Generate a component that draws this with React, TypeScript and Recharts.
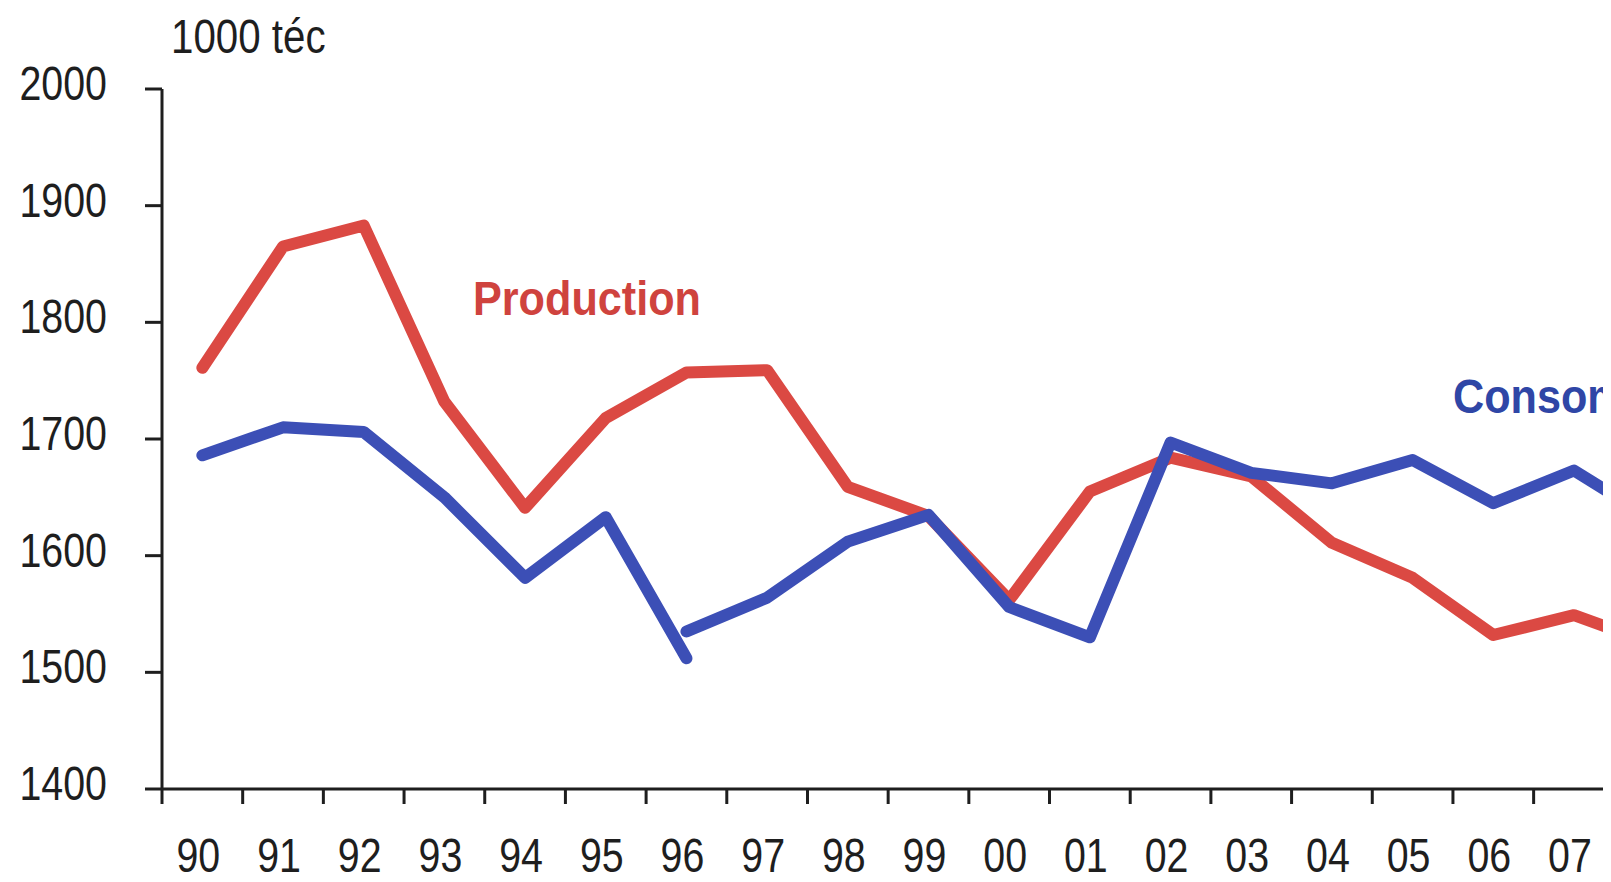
import { LineChart, Line, XAxis, YAxis } from 'recharts'

const years = ['90', '91', '92', '93', '94', '95', '96', '97', '98', '99', '00', '01', '02', '03', '04', '05', '06', '07', '08']
const production = [1761, 1865, 1883, 1732, 1641, 1718, 1757, 1759, 1659, 1634, 1562, 1655, 1684, 1668, 1611, 1581, 1532, 1549, 1524]
// consommation has a break in 96: old series ends, new series starts
const consOld = [1686, 1710, 1706, 1650, 1581, 1633, 1512]
const consNew = [1535, 1564, 1612, 1635, 1556, 1530, 1697, 1671, 1662, 1682, 1645, 1673, 1630]
const yTicks = [1400, 1500, 1600, 1700, 1800, 1900, 2000]

const breakIndex = consOld.length - 1

const data = years.map((label, i) => ({
  pos: i + 0.5,
  label,
  production: production[i],
  consOld: i <= breakIndex ? consOld[i] : null,
  consNew: i >= breakIndex ? consNew[i - breakIndex] : null,
}))

const boundaryTicks = years.map((_, i) => i).concat([years.length])
const centerTicks = data.map((d) => d.pos)

const FONT = "'Liberation Sans Narrow', 'Arial Narrow', 'Liberation Sans', Arial, sans-serif"
const RED = '#DB4943'
const BLUE = '#3C4FB6'
const INK = '#1e1e1e'

function NarrowText({ x, y, children, anchor = 'start', size = 48, weight = 'normal', fill = INK, baseline, squeeze = 0.82 }: any) {
  return (
    <text
      transform={`translate(${x},${y}) scale(${squeeze},1)`}
      textAnchor={anchor}
      dominantBaseline={baseline}
      fontFamily={FONT}
      fontSize={size}
      fontWeight={weight}
      fill={fill}
    >
      {children}
    </text>
  )
}

function YTick({ x, y, payload }: any) {
  return (
    <NarrowText x={x} y={y - 6} anchor="end" baseline="central">
      {payload.value}
    </NarrowText>
  )
}

function XLabel({ x, y, payload }: any) {
  const label = years[Math.floor(payload.value)]
  return (
    <NarrowText x={x - 4} y={y + 34} anchor="middle">
      {label}
    </NarrowText>
  )
}

function BlankTick() {
  return <g />
}

export default function App() {
  return (
    <div style={{ position: 'relative', width: 1595, height: 874, overflow: 'hidden', background: '#fff' }}>
      <LineChart width={1700} height={874} data={data} margin={{ top: 81, right: 13, left: 0, bottom: 0 }}>
        <XAxis
          xAxisId="a_marks"
          dataKey="pos"
          type="number"
          domain={[0, years.length]}
          ticks={boundaryTicks}
          tick={<BlankTick />}
          tickSize={15}
          height={16}
          axisLine={{ stroke: INK, strokeWidth: 3 }}
          tickLine={{ stroke: INK, strokeWidth: 3 }}
          interval={0}
          allowDataOverflow
        />
        <XAxis
          xAxisId="b_labels"
          dataKey="pos"
          type="number"
          domain={[0, years.length]}
          ticks={centerTicks}
          tick={<XLabel />}
          tickSize={0}
          tickMargin={33}
          height={77}
          axisLine={false}
          tickLine={false}
          interval={0}
          allowDataOverflow
        />
        <YAxis
          width={154}
          domain={[1400, 2000]}
          ticks={yTicks}
          tick={<YTick />}
          tickSize={17}
          tickMargin={38}
          interval={0}
          axisLine={{ stroke: INK, strokeWidth: 3 }}
          tickLine={{ stroke: INK, strokeWidth: 3 }}
          allowDataOverflow
        />
        <Line
          xAxisId="a_marks"
          type="linear"
          dataKey="production"
          stroke={RED}
          strokeWidth={12}
          strokeLinecap="round"
          strokeLinejoin="round"
          dot={false}
          activeDot={false}
          isAnimationActive={false}
        />
        <Line
          xAxisId="a_marks"
          type="linear"
          dataKey="consOld"
          stroke={BLUE}
          strokeWidth={12}
          strokeLinecap="round"
          strokeLinejoin="round"
          dot={false}
          activeDot={false}
          isAnimationActive={false}
        />
        <Line
          xAxisId="a_marks"
          type="linear"
          dataKey="consNew"
          stroke={BLUE}
          strokeWidth={12}
          strokeLinecap="round"
          strokeLinejoin="round"
          dot={false}
          activeDot={false}
          isAnimationActive={false}
        />
      </LineChart>
      <svg width={1595} height={874} style={{ position: 'absolute', left: 0, top: 0, pointerEvents: 'none' }}>
        <NarrowText x={163} y={45} size={48} squeeze={0.84}>1000 téc</NarrowText>
        <NarrowText x={465} y={307} weight="bold" fill="#CF433E" squeeze={0.9}>Production</NarrowText>
        <NarrowText x={1445} y={405} weight="bold" fill="#2F46A6" squeeze={0.9}>Consommation</NarrowText>
      </svg>
    </div>
  )
}
